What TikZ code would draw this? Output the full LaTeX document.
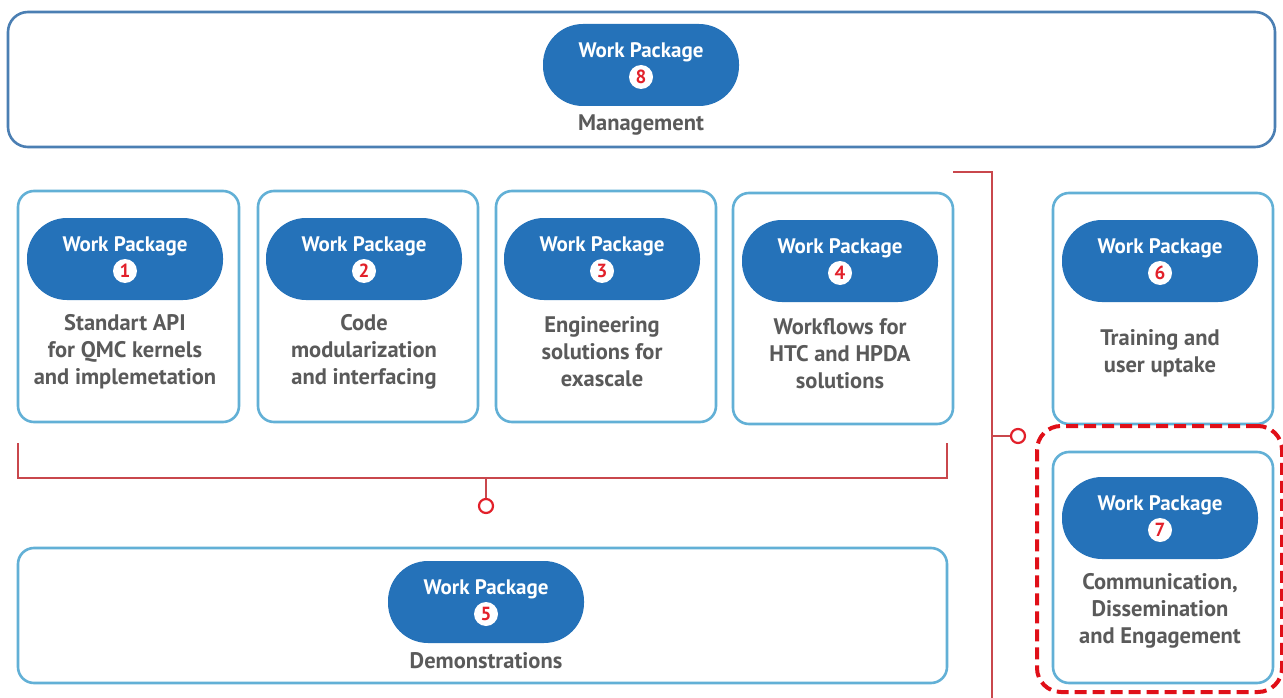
\documentclass[tikz,border=0pt]{standalone}
\usepackage{fontspec}
\setmainfont{PT Sans}
\usetikzlibrary{calc}
\definecolor{pillblue}{HTML}{2572B9}
\definecolor{boxblue}{HTML}{62B0D6}
\definecolor{topblue}{HTML}{4B7FB3}
\definecolor{txtgrey}{HTML}{5A5A5A}
\definecolor{linered}{HTML}{C9474C}
\definecolor{dotred}{HTML}{E2202A}
\definecolor{dashred}{HTML}{E00F18}
\newcommand{\wpkg}[4]{%
  \node[pill] (p#1) at (#2,#3) {};
  \node[wptitle] (w#1) at ($(p#1.center)+(0,-13)$) {Work Package};
  \node[numc] (n#1) at ($(p#1.center)+(0,12)$) {#4};
}
\begin{document}
\begin{tikzpicture}[x=1pt,y=-1pt,
 wpbox/.style={draw=boxblue, line width=2.6pt, rounded corners=16pt, fill=white, inner sep=0pt},
 pill/.style={fill=pillblue, rounded corners=40pt, minimum width=196pt, minimum height=82pt, inner sep=0pt},
 wptitle/.style={text=white, inner sep=0pt, font=\bfseries\fontsize{21}{24}\selectfont},
 numc/.style={circle, fill=white, minimum size=24pt, inner sep=0pt, text=dotred, font=\bfseries\fontsize{19}{20}\selectfont},
 desc/.style={text=txtgrey, inner sep=0pt, font=\bfseries\fontsize{22.5}{27}\selectfont, align=center},
 link/.style={draw=linered, line width=1.8pt},
 knob/.style={circle, draw=dotred, line width=2.2pt, fill=white, minimum size=14pt, inner sep=0pt}]
\useasboundingbox (0,0) rectangle (1283,698);
\fill[white] (0,0) rectangle (1283,698);

% Management
\node[draw=topblue, line width=2.6pt, rounded corners=20pt, minimum width=1267pt, minimum height=135pt, inner sep=0pt] (b8) at (641.5,79.5) {};
\wpkg{8}{641}{65}{8}
\node[desc] (d8) at (641,125) {Management};

% WP1-4
\node[wpbox, minimum width=221pt, minimum height=231pt] (b1) at (128.5,306.5) {};
\node[wpbox, minimum width=220pt, minimum height=231pt] (b2) at (368,306.5) {};
\node[wpbox, minimum width=220pt, minimum height=231pt] (b3) at (606,306.5) {};
\node[wpbox, minimum width=220pt, minimum height=231pt] (b4) at (843,308.5) {};
\wpkg{1}{125}{259}{1}
\wpkg{2}{364}{259}{2}
\wpkg{3}{602}{259}{3}
\wpkg{4}{840}{261}{4}
\node[desc] (d1) at (125,352) {Standart API\\for QMC kernels\\and implemetation};
\node[desc] (d2) at (364,352) {Code\\modularization\\and interfacing};
\node[desc] (d3) at (602,352) {Engineering\\solutions for\\exascale};
\node[desc] (d4) at (840,354) {Workflows for\\HTC and HPDA\\solutions};

% WP6, WP7
\node[wpbox, minimum width=220pt, minimum height=231pt] (b6) at (1163,308.5) {};
\wpkg{6}{1160}{261}{6}
\node[desc] (d6) at (1160,353.5) {Training and\\user uptake};
\node[draw=dashred, dash pattern=on 12pt off 6pt, line width=4pt, rounded corners=24pt, minimum width=245pt, minimum height=266pt, inner sep=0pt] (hl) at (1159.5,559) {};
\node[wpbox, minimum width=220pt, minimum height=231pt] (b7) at (1163,567.5) {};
\wpkg{7}{1160}{518}{7}
\node[desc] (d7) at (1160,610.5) {Communication,\\Dissemination\\and Engagement};

% WP5
\node[wpbox, minimum width=929pt, minimum height=135pt] (b5) at (482.5,615.5) {};
\wpkg{5}{486}{602}{5}
\node[desc] (d5) at (486,661) {Demonstrations};

% connectors
\coordinate (bl) at (18,443);
\coordinate (br) at (947,443);
\coordinate (bm) at (486,478);
\node[knob] (k5) at (486,506) {};
\draw[link] (bl) -- (bl |- bm) -- (br |- bm) -- (br);
\draw[link] (bm) -- (k5);
\coordinate (rt) at (953,172);
\coordinate (rc) at (992,172);
\coordinate (rb) at (992,698);
\node[knob] (k67) at (1018,436) {};
\draw[link] (rt) -- (rc) -- (rb);
\draw[link] (rc |- k67) -- (k67);
\end{tikzpicture}
\end{document}
